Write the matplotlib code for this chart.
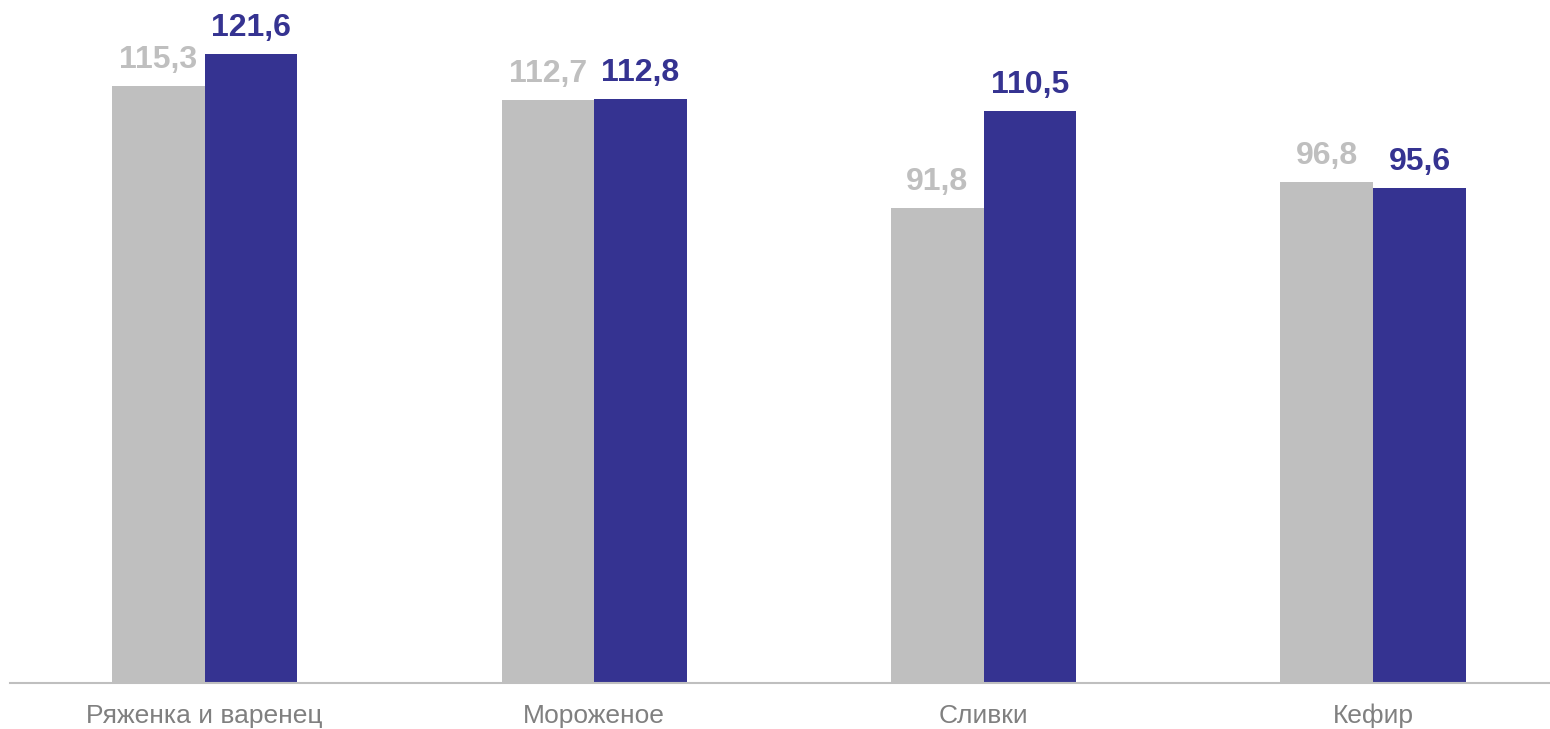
import matplotlib.pyplot as plt
import numpy as np

plt.rcParams['font.family'] = ['Liberation Sans', 'DejaVu Sans']

# Данные
categories = ['Ряженка и варенец', 'Мороженое', 'Сливки', 'Кефир']
series_grey = [115.3, 112.7, 91.8, 96.8]
series_blue = [121.6, 112.8, 110.5, 95.6]

grey = '#bfbfbf'
blue = '#353391'

fig = plt.figure(figsize=(15.5, 7.29), dpi=100)
ax = fig.add_axes([10 / 1550, 1 - 683 / 729, 1540 / 1550, 683 / 729])

x = np.arange(len(categories))
w = 0.238
b1 = ax.bar(x - w / 2, series_grey, w, color=grey)
b2 = ax.bar(x + w / 2, series_blue, w, color=blue)

def fmt(v):
    return f'{v:.1f}'.replace('.', ',')

ax.bar_label(b1, labels=[fmt(v) for v in series_grey], padding=8,
             color=grey, fontsize=23, fontweight='bold')
ax.bar_label(b2, labels=[fmt(v) for v in series_blue], padding=8,
             color=blue, fontsize=23, fontweight='bold')

ax.set_xlim(-0.5, 3.454)
ax.set_ylim(0, 132)
ax.set_xticks(x)
ax.set_xticklabels(categories, fontsize=19, color='#808080')
ax.tick_params(axis='x', length=0, pad=15)
ax.set_yticks([])
for s in ['top', 'right', 'left']:
    ax.spines[s].set_visible(False)
ax.spines['bottom'].set_color('#bfbfbf')
ax.spines['bottom'].set_linewidth(1.5)

fig.savefig('out.png', dpi=100)
